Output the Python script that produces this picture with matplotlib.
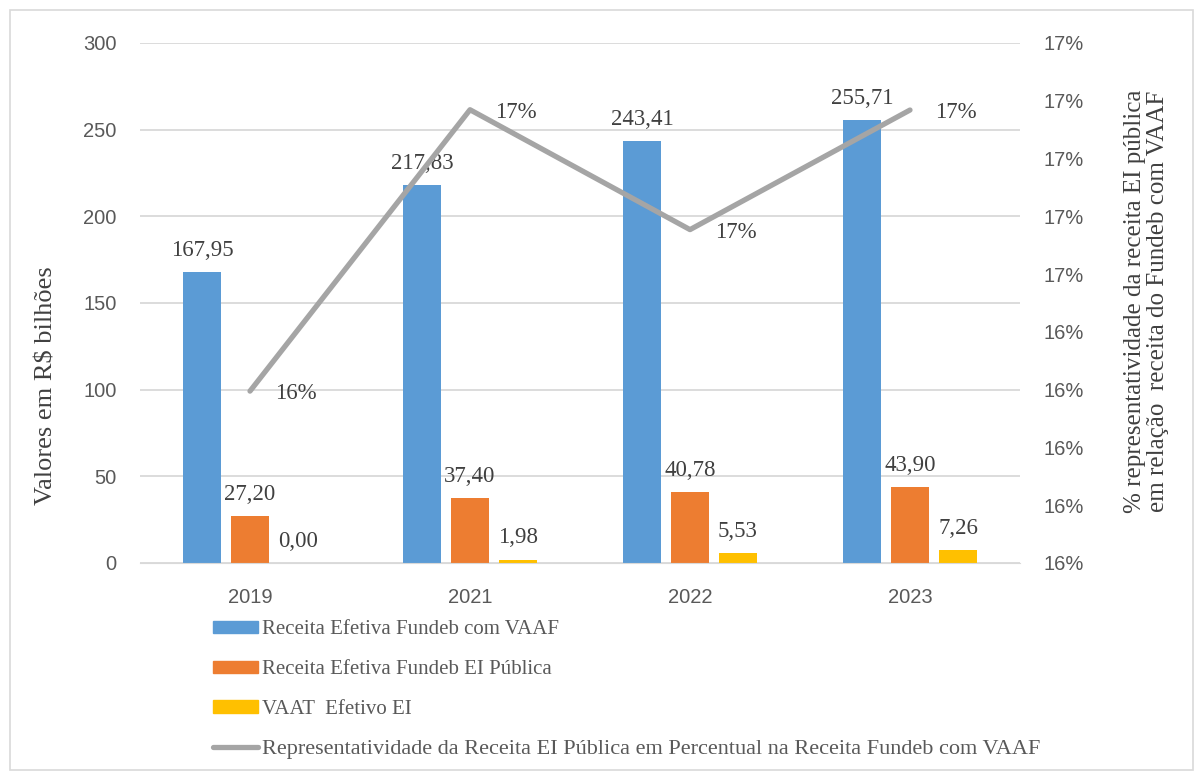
import numpy as np
import matplotlib
matplotlib.use('Agg')
import matplotlib.pyplot as plt
from matplotlib.ticker import FuncFormatter
from matplotlib.patches import Rectangle
from matplotlib.lines import Line2D

# data
anos = ['2019', '2021', '2022', '2023']
receita_vaaf = [167.95, 217.83, 243.41, 255.71]
receita_ei = [27.20, 37.40, 40.78, 43.90]
vaat_ei = [0.00, 1.98, 5.53, 7.26]
perc_ei = [0.16195, 0.17169, 0.16754, 0.17168]

nomes = ['Receita Efetiva Fundeb com VAAF',
         'Receita Efetiva Fundeb EI Pública',
         'VAAT  Efetivo EI',
         'Representatividade da Receita EI Pública em Percentual na Receita Fundeb com VAAF']

azul = '#5B9BD5'
laranja = '#ED7D31'
amarelo = '#FFC000'
cinza = '#A5A5A5'
txt = '#404040'
serif = 'Liberation Serif'
sans = 'Liberation Sans'

fig = plt.figure(figsize=(12.03, 7.79), dpi=100)
ax = fig.add_axes([140/1203, 1-563/779, 880/1203, 520/779])
ax2 = ax.twinx()

x = np.arange(len(anos))
w = 0.173
d = 0.218
b1 = ax.bar(x - d, receita_vaaf, w, color=azul, zorder=2)
b2 = ax.bar(x, receita_ei, w, color=laranja, zorder=2)
b3 = ax.bar(x + d, vaat_ei, w, color=amarelo, zorder=2)

for barras in (b1, b2, b3):
    for r in barras:
        v = r.get_height()
        ax.annotate(f'{v:.2f}'.replace('.', ','),
                    (r.get_x() + r.get_width()/2, v), xytext=(0, 8),
                    textcoords='offset points', ha='center', va='bottom',
                    fontsize=16.5, family=serif, color=txt)

ax.set_xlim(-0.5, len(anos) - 0.5)
ax.set_ylim(0, 300)
ax.set_yticks(np.arange(0, 301, 50))
ax.set_xticks(x)
ax.set_xticklabels(anos)
ax.grid(axis='y', color='#D9D9D9', linewidth=1.3, zorder=0)
ax.tick_params(length=0, labelsize=14.5, labelcolor='#595959')
ax.tick_params(axis='x', pad=18)
ax.tick_params(axis='y', pad=17)
for lab in ax.get_xticklabels() + ax.get_yticklabels():
    lab.set_family(sans)
for s in ['top', 'left', 'right']:
    ax.spines[s].set_visible(False)
ax.spines['bottom'].set_color('#D9D9D9')
ax.set_ylabel('Valores em R$ bilhões', fontsize=19, family=serif, color=txt)
ax.yaxis.set_label_coords((58-140)/880, (563-386)/520)

ax2.plot(x, perc_ei, color=cinza, linewidth=3.8, solid_capstyle='round',
         solid_joinstyle='round', zorder=3)
for xi, p in zip(x, perc_ei):
    ax2.annotate(f'{p*100:.0f}%', (xi, p), xytext=(18, -2),
                 textcoords='offset points', ha='left', va='center',
                 fontsize=16.5, family=serif, color=txt)
ax2.set_ylim(0.156, 0.174)
ax2.set_yticks(np.arange(0.156, 0.1745, 0.002))
ax2.yaxis.set_major_formatter(FuncFormatter(lambda v, p: f'{round(v*100):.0f}%'))
ax2.tick_params(length=0, labelsize=14.5, labelcolor='#595959', pad=17)
for lab in ax2.get_yticklabels():
    lab.set_family(sans)
for s in ax2.spines.values():
    s.set_visible(False)
ax2.set_ylabel('% representatividade da receita EI pública\nem relação  receita do Fundeb com VAAF',
               fontsize=18, family=serif, color=txt, rotation=90,
               linespacing=1.05)
ax2.yaxis.set_label_coords((1124-140)/880, (563-301)/520)

handles = [Rectangle((0, 0), 1, 1, color=azul),
           Rectangle((0, 0), 1, 1, color=laranja),
           Rectangle((0, 0), 1, 1, color=amarelo),
           Line2D([0], [0], color=cinza, linewidth=3.8, solid_capstyle='round')]
leg = fig.legend(handles, nomes, loc='upper left',
                 bbox_to_anchor=(205/1203, 1-612/779), frameon=False,
                 prop={'family': serif, 'size': 15}, labelcolor='#595959',
                 handlelength=2.15, handleheight=0.55, handletextpad=0.2,
                 labelspacing=1.0, borderaxespad=0)
leg.get_texts()[3].set_fontsize(16)

fig.patches.append(Rectangle((10/1203, 9/779), 1183/1203, 760/779,
                             transform=fig.transFigure, fill=False,
                             edgecolor='#D9D9D9', linewidth=1.2))

fig.savefig('out.png', dpi=100)
